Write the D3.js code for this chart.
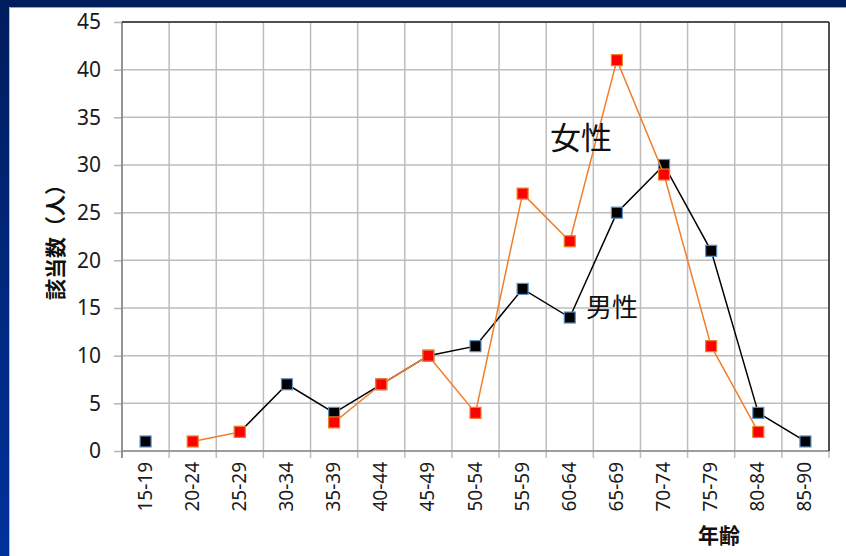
<!DOCTYPE html>
<html>
<head>
<meta charset="utf-8">
<script src="https://cdn.jsdelivr.net/npm/d3@7"></script>
<style>
  html, body { margin: 0; padding: 0; background: #fff; }
  svg { display: block; }
</style>
</head>
<body>
<svg id="chart" width="846" height="556"></svg>
<script>
// Age groups and counts per group (null = no data for that group)
const ageGroups = ["15-19","20-24","25-29","30-34","35-39","40-44","45-49","50-54","55-59","60-64","65-69","70-74","75-79","80-84","85-90"];
const male   = [1, null, 2, 7, 4, 7, 10, 11, 17, 14, 25, 30, 21, 4, 1];
const female = [null, 1, 2, null, 3, 7, 10, 4, 27, 22, 41, 29, 11, 2, null];
const yTicks = [0, 5, 10, 15, 20, 25, 30, 35, 40, 45];

const svg = d3.select("#chart");
const W = 846, H = 556;
const plot = { left: 122, right: 829, top: 22, bottom: 451 };
const font = "'Noto Sans CJK JP', 'Noto Sans', sans-serif";
const numFont = "'Noto Sans', 'Liberation Sans', sans-serif";

// Frame: dark band along the top, blue band down the left edge
const defs = svg.append("defs");
const grad = defs.append("linearGradient").attr("id", "sideBand")
  .attr("x1", 0).attr("y1", 0).attr("x2", 0).attr("y2", 1);
grad.append("stop").attr("offset", "0%").attr("stop-color", "#001d5c");
grad.append("stop").attr("offset", "100%").attr("stop-color", "#00329c");
svg.append("rect").attr("x", 0).attr("y", 0).attr("width", W).attr("height", H).attr("fill", "#fff");
svg.append("rect").attr("x", 0).attr("y", 0).attr("width", 9).attr("height", H).attr("fill", "url(#sideBand)");
svg.append("rect").attr("x", 0).attr("y", 0).attr("width", W).attr("height", 7).attr("fill", "#001d5c");
svg.append("line").attr("x1", 9).attr("x2", W).attr("y1", 7.5).attr("y2", 7.5).attr("stroke", "#9aa3b5").attr("stroke-width", 1);
svg.append("line").attr("x1", 9.5).attr("x2", 9.5).attr("y1", 7).attr("y2", H).attr("stroke", "#b6bccb").attr("stroke-width", 1);

const x = d3.scaleBand().domain(ageGroups).range([plot.left, plot.right]).padding(0);
const y = d3.scaleLinear().domain([0, 45]).range([plot.bottom, plot.top]);
const cx = d => x(d) + x.bandwidth() / 2;

// Horizontal gridlines with tick marks extending left of the axis
const yAxis = d3.axisLeft(y).tickValues(yTicks).tickSize(8).tickPadding(13).tickFormat(d3.format("d"));
const gy = svg.append("g").attr("transform", `translate(${plot.left},0)`).call(yAxis);
gy.attr("font-size", null).attr("font-family", null);
gy.select(".domain").remove();
gy.selectAll(".tick line").attr("stroke", "#b3b3b3").attr("stroke-width", 1.5);
gy.selectAll(".tick text").style("font-family", numFont).style("font-size", "21px").attr("fill", "#1a1a1a");
svg.append("g").selectAll("line").data(yTicks).join("line")
  .attr("x1", plot.left).attr("x2", plot.right)
  .attr("y1", d => y(d)).attr("y2", d => y(d))
  .attr("stroke", "#bdbdbd").attr("stroke-width", 1.5);

// Vertical gridlines at group boundaries, ticks below the baseline
const bounds = ageGroups.map(d => x(d)).concat([plot.right]);
svg.append("g").selectAll("line").data(bounds).join("line")
  .attr("x1", d => d).attr("x2", d => d)
  .attr("y1", plot.top).attr("y2", plot.bottom + 7)
  .attr("stroke", "#bdbdbd").attr("stroke-width", 1.5);

// Axis lines and plot border
svg.append("line").attr("x1", plot.left).attr("x2", plot.left).attr("y1", plot.top).attr("y2", plot.bottom + 7)
  .attr("stroke", "#7f7f7f").attr("stroke-width", 1.5);
svg.append("line").attr("x1", plot.left).attr("x2", plot.right).attr("y1", plot.bottom).attr("y2", plot.bottom)
  .attr("stroke", "#8c8c8c").attr("stroke-width", 1.5);
svg.append("line").attr("x1", plot.left).attr("x2", plot.right).attr("y1", plot.top).attr("y2", plot.top)
  .attr("stroke", "#262626").attr("stroke-width", 1.5);
svg.append("line").attr("x1", plot.right).attr("x2", plot.right).attr("y1", plot.top).attr("y2", plot.bottom)
  .attr("stroke", "#262626").attr("stroke-width", 1.5);

// Rotated category labels
svg.append("g").selectAll("text").data(ageGroups).join("text")
  .attr("transform", d => `translate(${cx(d) + 6},${plot.bottom + 11}) rotate(-90)`)
  .attr("text-anchor", "end")
  .style("font-family", numFont).style("font-size", "19px").attr("fill", "#1a1a1a")
  .text(d => d);

// Series lines and markers
function drawSeries(values, lineColor, fill, stroke) {
  const pts = ageGroups.map((g, i) => ({ g, v: values[i] }));
  const line = d3.line().defined(d => d.v !== null).x(d => cx(d.g)).y(d => y(d.v));
  svg.append("path").datum(pts).attr("d", line)
    .attr("fill", "none").attr("stroke", lineColor).attr("stroke-width", 1.5);
  svg.append("g").selectAll("rect").data(pts.filter(d => d.v !== null)).join("rect")
    .attr("x", d => cx(d.g) - 5.5).attr("y", d => y(d.v) - 5.5)
    .attr("width", 11).attr("height", 11)
    .attr("fill", fill).attr("stroke", stroke).attr("stroke-width", 1.2);
}
drawSeries(male, "#000000", "#000000", "#5b8fc9");
drawSeries(female, "#f07f2c", "#ff0000", "#f07f2c");

// Series annotations
svg.append("text").attr("x", 550).attr("y", 149)
  .style("font-family", font).style("font-size", "31px").attr("fill", "#111").text("女性");
svg.append("text").attr("x", 586).attr("y", 317)
  .style("font-family", font).style("font-size", "26px").attr("fill", "#111").text("男性");

// Axis titles
svg.append("text").attr("transform", `translate(63,237) rotate(-90)`)
  .attr("text-anchor", "middle").style("font-family", font).style("font-weight", "bold")
  .style("font-size", "21px").attr("fill", "#111").text("該当数（人）");
svg.append("text").attr("x", 719).attr("y", 543)
  .attr("text-anchor", "middle").style("font-family", font).style("font-weight", "bold")
  .style("font-size", "21px").attr("fill", "#111").text("年齢");
</script>
</body>
</html>
